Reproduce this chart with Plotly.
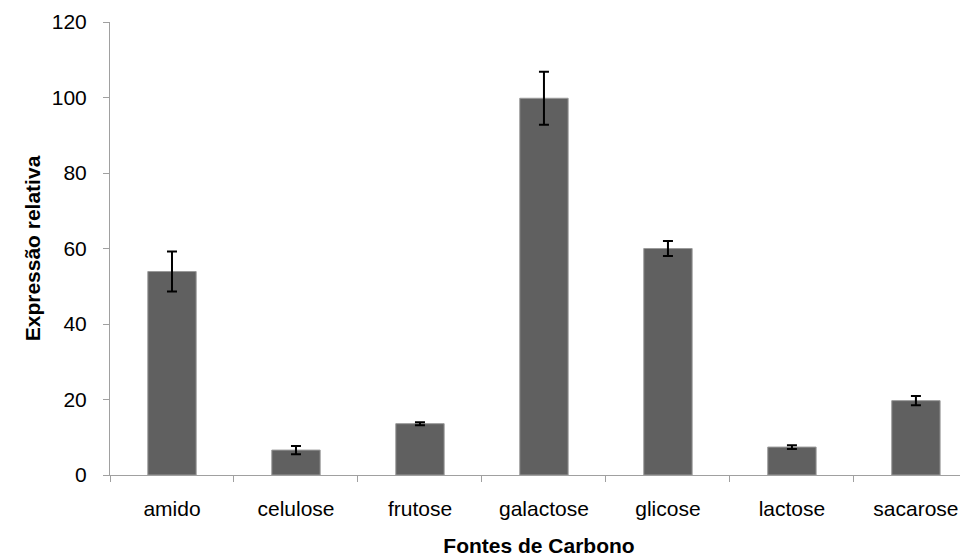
import plotly.graph_objects as go

categories = ["amido", "celulose", "frutose", "galactose", "glicose", "lactose", "sacarose"]
values = [53.9, 6.6, 13.6, 99.8, 60.0, 7.4, 19.7]
errors = [5.3, 1.1, 0.4, 7.0, 2.0, 0.5, 1.2]
y_ticks = [0, 20, 40, 60, 80, 100, 120]

fig = go.Figure(
    go.Bar(
        x=categories,
        y=values,
        width=0.39,
        marker=dict(color="#606060", line=dict(color="#9a9a9a", width=1)),
        error_y=dict(type="data", array=errors, visible=True,
                     color="#000000", thickness=2, width=5),
    )
)

font_family = "Liberation Sans, Arial, sans-serif"
fig.update_layout(
    width=968, height=557,
    margin=dict(l=102, r=8, t=14, b=90),
    plot_bgcolor="white", paper_bgcolor="white",
    showlegend=False,
    font=dict(family=font_family, size=21, color="#000000"),
    xaxis=dict(
        range=[-0.5, 6.42],
        automargin=False,
        tickson="boundaries",
        ticks="outside", ticklen=6, tickcolor="#a0a0a0",
        showline=True, linecolor="#a0a0a0", linewidth=1,
        showgrid=False, zeroline=False,
        tickfont=dict(size=21),
        ticklabelstandoff=15,
        title=dict(text="<b>Fontes de Carbono</b>", font=dict(size=21), standoff=19),
    ),
    yaxis=dict(
        range=[0, 120],
        automargin=False,
        tickvals=y_ticks,
        ticks="outside", ticklen=6, tickcolor="#a0a0a0",
        showline=True, linecolor="#a0a0a0", linewidth=1,
        showgrid=False, zeroline=False,
        tickfont=dict(size=21),
        ticklabelstandoff=12,
        title=dict(text="<b>Expressão relativa</b>", font=dict(size=21), standoff=5),
    ),
)

fig.write_html("out.html")
